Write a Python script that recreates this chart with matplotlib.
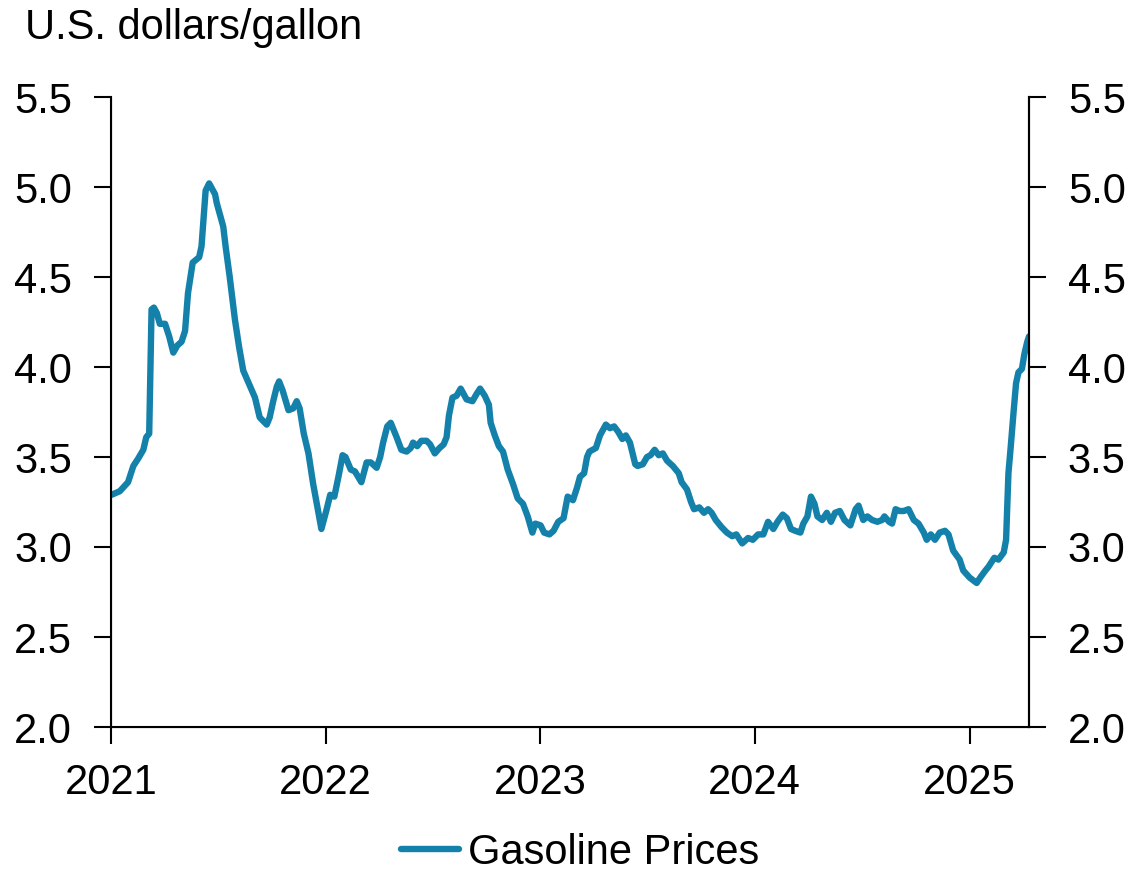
import pandas as pd
import matplotlib
matplotlib.use("Agg")
import matplotlib.pyplot as plt
import matplotlib.dates as mdates

plt.rcParams['font.family'] = ['Liberation Sans', 'DejaVu Sans']

# ----------------------------
# Data
# ----------------------------
dates = [
    '2021-01-02', '2021-01-16', '2021-01-30', '2021-02-08', '2021-02-16', '2021-02-25',
    '2021-03-02', '2021-03-07', '2021-03-11', '2021-03-15', '2021-03-20', '2021-03-25',
    '2021-04-03', '2021-04-10', '2021-04-17', '2021-04-24', '2021-05-01', '2021-05-07',
    '2021-05-12', '2021-05-20', '2021-05-31', '2021-06-04', '2021-06-11', '2021-06-17',
    '2021-06-27', '2021-06-30', '2021-07-05', '2021-07-11', '2021-07-15', '2021-07-22',
    '2021-07-31', '2021-08-07', '2021-08-14', '2021-08-22', '2021-09-03', '2021-09-11',
    '2021-09-23', '2021-09-28', '2021-10-04', '2021-10-10', '2021-10-14', '2021-10-20',
    '2021-10-30', '2021-11-07', '2021-11-13', '2021-11-18', '2021-11-25', '2021-12-03',
    '2021-12-11', '2021-12-20', '2021-12-25',
    '2022-01-03', '2022-01-09', '2022-01-16', '2022-01-23', '2022-01-30', '2022-02-04',
    '2022-02-13', '2022-02-20', '2022-03-03', '2022-03-12', '2022-03-19', '2022-03-29',
    '2022-04-04', '2022-04-09', '2022-04-16', '2022-04-22', '2022-05-02', '2022-05-10',
    '2022-05-19', '2022-05-26', '2022-05-30', '2022-06-06', '2022-06-13', '2022-06-22',
    '2022-06-28', '2022-07-06', '2022-07-14', '2022-07-21', '2022-07-26', '2022-07-30',
    '2022-08-05', '2022-08-12', '2022-08-19', '2022-08-29', '2022-09-08', '2022-09-15',
    '2022-09-21', '2022-09-29', '2022-10-06', '2022-10-09', '2022-10-16', '2022-10-23',
    '2022-10-30', '2022-11-07', '2022-11-16', '2022-11-24', '2022-12-03', '2022-12-11',
    '2022-12-19', '2022-12-24',
    '2023-01-02', '2023-01-08', '2023-01-17', '2023-01-24', '2023-02-01', '2023-02-10',
    '2023-02-17', '2023-02-26', '2023-03-05', '2023-03-10', '2023-03-17', '2023-03-22',
    '2023-03-26', '2023-04-06', '2023-04-13', '2023-04-23', '2023-04-30', '2023-05-07',
    '2023-05-14', '2023-05-21', '2023-05-27', '2023-06-03', '2023-06-12', '2023-06-16',
    '2023-06-25', '2023-07-02', '2023-07-08', '2023-07-15', '2023-07-22', '2023-07-29',
    '2023-08-05', '2023-08-15', '2023-08-25', '2023-08-30', '2023-09-08', '2023-09-15',
    '2023-09-20', '2023-09-29', '2023-10-07', '2023-10-14', '2023-10-20', '2023-10-27',
    '2023-11-06', '2023-11-15', '2023-11-24', '2023-12-01', '2023-12-11', '2023-12-21',
    '2023-12-29',
    '2024-01-07', '2024-01-16', '2024-01-24', '2024-02-02', '2024-02-09', '2024-02-18',
    '2024-02-25', '2024-03-03', '2024-03-10', '2024-03-19', '2024-03-24', '2024-03-31',
    '2024-04-06', '2024-04-12', '2024-04-17', '2024-04-25', '2024-05-03', '2024-05-10',
    '2024-05-17', '2024-05-25', '2024-06-02', '2024-06-12', '2024-06-21', '2024-06-26',
    '2024-07-04', '2024-07-11', '2024-07-19', '2024-07-28', '2024-08-05', '2024-08-09',
    '2024-08-17', '2024-08-22', '2024-08-28', '2024-09-04', '2024-09-11', '2024-09-19',
    '2024-09-28', '2024-10-06', '2024-10-15', '2024-10-20', '2024-10-27', '2024-11-03',
    '2024-11-11', '2024-11-20', '2024-11-26', '2024-12-04', '2024-12-15', '2024-12-21',
    '2025-01-01', '2025-01-13', '2025-01-19', '2025-01-28', '2025-02-02', '2025-02-12',
    '2025-02-19', '2025-02-28', '2025-03-04', '2025-03-08', '2025-03-12', '2025-03-17',
    '2025-03-21', '2025-03-25', '2025-03-31', '2025-04-04', '2025-04-09', '2025-04-12',
]

prices = [
    3.29, 3.31, 3.36, 3.45, 3.49, 3.54,
    3.61, 3.63, 4.32, 4.33, 4.30, 4.24,
    4.24, 4.17, 4.08, 4.12, 4.14, 4.20,
    4.41, 4.58, 4.61, 4.67, 4.98, 5.02,
    4.96, 4.91, 4.85, 4.78, 4.67, 4.50,
    4.26, 4.11, 3.98, 3.92, 3.83, 3.72,
    3.68, 3.72, 3.81, 3.89, 3.92, 3.87,
    3.76, 3.77, 3.81, 3.77, 3.63, 3.52,
    3.35, 3.19, 3.10,
    3.21, 3.29, 3.28, 3.39, 3.51, 3.50,
    3.43, 3.42, 3.36, 3.47, 3.47, 3.44,
    3.50, 3.58, 3.67, 3.69, 3.61, 3.54,
    3.53, 3.55, 3.58, 3.56, 3.59, 3.59,
    3.57, 3.52, 3.55, 3.57, 3.61, 3.73,
    3.83, 3.84, 3.88, 3.82, 3.81, 3.85,
    3.88, 3.84, 3.79, 3.69, 3.62, 3.56,
    3.53, 3.43, 3.35, 3.27, 3.24, 3.17,
    3.08, 3.13,
    3.12, 3.08, 3.07, 3.09, 3.14, 3.16,
    3.28, 3.26, 3.33, 3.39, 3.41, 3.50,
    3.53, 3.55, 3.62, 3.68, 3.66, 3.67,
    3.64, 3.60, 3.62, 3.58, 3.46, 3.45,
    3.46, 3.50, 3.51, 3.54, 3.51, 3.52,
    3.48, 3.45, 3.41, 3.36, 3.32, 3.25,
    3.21, 3.22, 3.19, 3.21, 3.19, 3.15,
    3.11, 3.08, 3.06, 3.07, 3.02, 3.05,
    3.04,
    3.07, 3.07, 3.14, 3.10, 3.14, 3.18,
    3.16, 3.10, 3.09, 3.08, 3.13, 3.17,
    3.28, 3.24, 3.17, 3.15, 3.19, 3.14,
    3.19, 3.20, 3.15, 3.12, 3.21, 3.23,
    3.15, 3.17, 3.15, 3.14, 3.15, 3.17,
    3.14, 3.13, 3.21, 3.20, 3.20, 3.21,
    3.15, 3.13, 3.08, 3.04, 3.07, 3.04,
    3.08, 3.09, 3.07, 2.98, 2.93, 2.87,
    2.83, 2.80, 2.83, 2.87, 2.89, 2.94,
    2.93, 2.97, 3.04, 3.41, 3.56, 3.76,
    3.91, 3.97, 3.99, 4.07, 4.14, 4.17,
]

series_label = 'Gasoline Prices'
unit_label = 'U.S. dollars/gallon'
year_ticks = ['2021-01-01', '2022-01-01', '2023-01-01', '2024-01-01', '2025-01-01']
y_ticks = [2.0, 2.5, 3.0, 3.5, 4.0, 4.5, 5.0, 5.5]

line_color = '#1481AB'
fs = 30

# ----------------------------
# Plot
# ----------------------------
x = pd.to_datetime(dates)

fig = plt.figure(figsize=(11.3, 8.72), dpi=100)
ax = fig.add_axes([111 / 1130, 1 - 727 / 872, (1029 - 111) / 1130, (727 - 97) / 872])

ax.plot(x, prices, color=line_color, linewidth=4.6, solid_capstyle='round',
        solid_joinstyle='round', label=series_label)

ax.set_xlim(x[0] - pd.Timedelta(days=1), x[-1])
ax.set_ylim(2.0, 5.5)
ax.set_yticks(y_ticks)
ax.set_yticklabels([f'{v:.1f}' for v in y_ticks])
ax.set_xticks(pd.to_datetime(year_ticks))
ax.xaxis.set_major_formatter(mdates.DateFormatter('%Y'))

ax.spines['top'].set_visible(False)
for s in ['left', 'right', 'bottom']:
    ax.spines[s].set_linewidth(1.5)
    ax.spines[s].set_color('black')

ax.tick_params(axis='both', direction='out', length=12, width=1.5, labelsize=fs)
ax.tick_params(axis='y', pad=16)
ax.tick_params(axis='x', pad=14)

# right-hand duplicate axis
ax2 = ax.twinx()
ax2.set_ylim(ax.get_ylim())
ax2.set_yticks(y_ticks)
ax2.set_yticklabels([f'{v:.1f}' for v in y_ticks])
ax2.spines['top'].set_visible(False)
ax2.spines['right'].set_linewidth(1.5)
ax2.tick_params(axis='y', direction='out', length=12, width=1.5, labelsize=fs, pad=16)

fig.text(25 / 1130, 1 - 28 / 872, unit_label, fontsize=fs, ha='left', va='center')

handles, labels = ax.get_legend_handles_labels()
fig.legend(handles, labels, loc='center', bbox_to_anchor=(580 / 1130, 1 - 853 / 872),
           frameon=False, fontsize=fs, handlelength=1.4, handletextpad=0.2,
           borderpad=0.05, borderaxespad=0.0)

fig.savefig('out.png', dpi=100)
